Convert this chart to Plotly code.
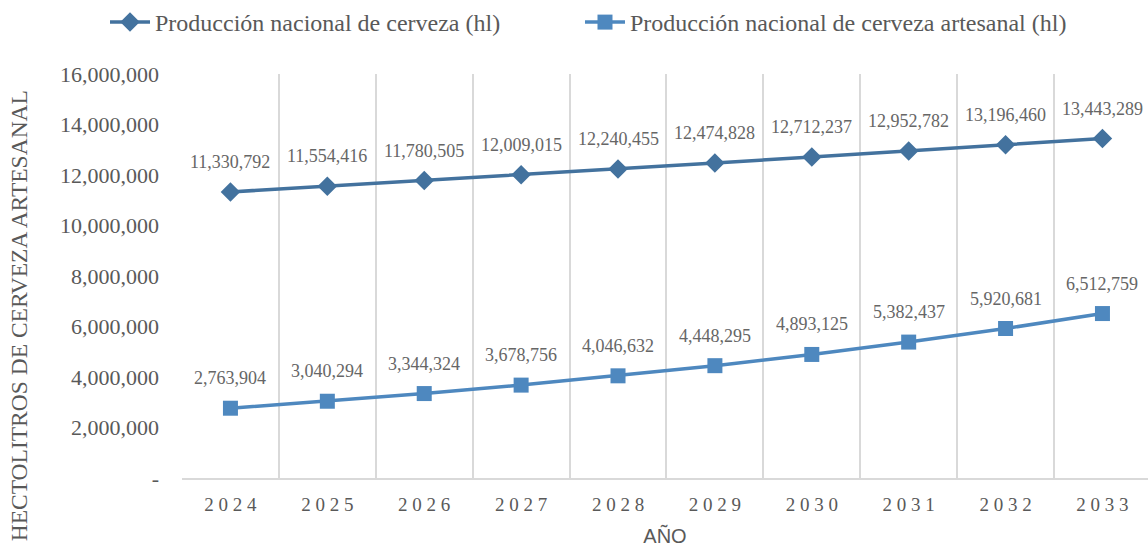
import plotly.graph_objects as go

years = [2024, 2025, 2026, 2027, 2028, 2029, 2030, 2031, 2032, 2033]
nacional = [11330792, 11554416, 11780505, 12009015, 12240455, 12474828, 12712237, 12952782, 13196460, 13443289]
artesanal = [2763904, 3040294, 3344324, 3678756, 4046632, 4448295, 4893125, 5382437, 5920681, 6512759]
series_names = ["Producción nacional de cerveza (hl)", "Producción nacional de cerveza artesanal (hl)"]
y_ticks = [0, 2000000, 4000000, 6000000, 8000000, 10000000, 12000000, 14000000, 16000000]

cats = [str(y) for y in years]
tick_text = [" ".join(list(c)) for c in cats]
y_tick_text = ["-" if v == 0 else f"{v:,}" for v in y_ticks]

serif = "Liberation Serif, Times New Roman, serif"
grey = "#595959"
label_grey = "#666666"
c1 = "#43729E"
c2 = "#4E88BF"

fig = go.Figure()
fig.add_trace(go.Scatter(x=cats, y=nacional, name=series_names[0], mode="lines+markers",
                         line=dict(color=c1, width=3.5), legend="legend",
                         marker=dict(symbol="diamond", size=15, color=c1)))
fig.add_trace(go.Scatter(x=cats, y=artesanal, name=series_names[1], mode="lines+markers",
                         line=dict(color=c2, width=3.5), legend="legend2",
                         marker=dict(symbol="square", size=15, color=c2)))

for ser in (nacional, artesanal):
    for i, v in enumerate(ser):
        fig.add_annotation(x=i, y=v, xref="x", yref="y", text=f"{v:,}", showarrow=False,
                           yshift=30, font=dict(family=serif, size=18, color=label_grey))

# y-axis title (placed as in the reference, slightly below plot centre)
fig.add_annotation(xref="paper", yref="paper", x=-0.169, y=0.402, xanchor="center", yanchor="middle",
                   text="HECTOLITROS DE CERVEZA ARTESANAL", textangle=-90, showarrow=False,
                   font=dict(family=serif, size=23.5, color=grey))

legend_style = dict(orientation="h", yanchor="middle", y=1.128, xanchor="left",
                    font=dict(family=serif, size=24, color=grey), itemwidth=40,
                    bgcolor="rgba(0,0,0,0)")

fig.update_layout(
    width=1148, height=548,
    margin=dict(l=182, r=0, t=73, b=70),
    plot_bgcolor="white", paper_bgcolor="white",
    showlegend=True,
    legend=dict(legend_style, x=-0.0797),
    legend2=dict(legend_style, x=0.412),
    xaxis=dict(type="category", tickson="boundaries", showgrid=True, gridcolor="#D9D9D9",
               gridwidth=1.5, showline=True, linecolor="#D9D9D9", linewidth=1.5,
               ticks="", tickvals=cats, ticktext=tick_text, automargin=False,
               tickfont=dict(family=serif, size=19, color=grey),
               ticklabelstandoff=8,
               title=dict(text="AÑO", font=dict(family="Liberation Sans, Arial, sans-serif", size=20, color=grey),
                          standoff=15),
               range=[-0.5, 9.47], zeroline=False),
    yaxis=dict(range=[0, 16000000], tickvals=y_ticks, ticktext=y_tick_text, showgrid=False,
               zeroline=False, showline=False, ticks="", automargin=False,
               tickfont=dict(family=serif, size=22, color=grey),
               ticklabelstandoff=22),
)

fig.write_html("out.html", config={"displayModeBar": False},
               post_script="document.body.style.margin='0';")
